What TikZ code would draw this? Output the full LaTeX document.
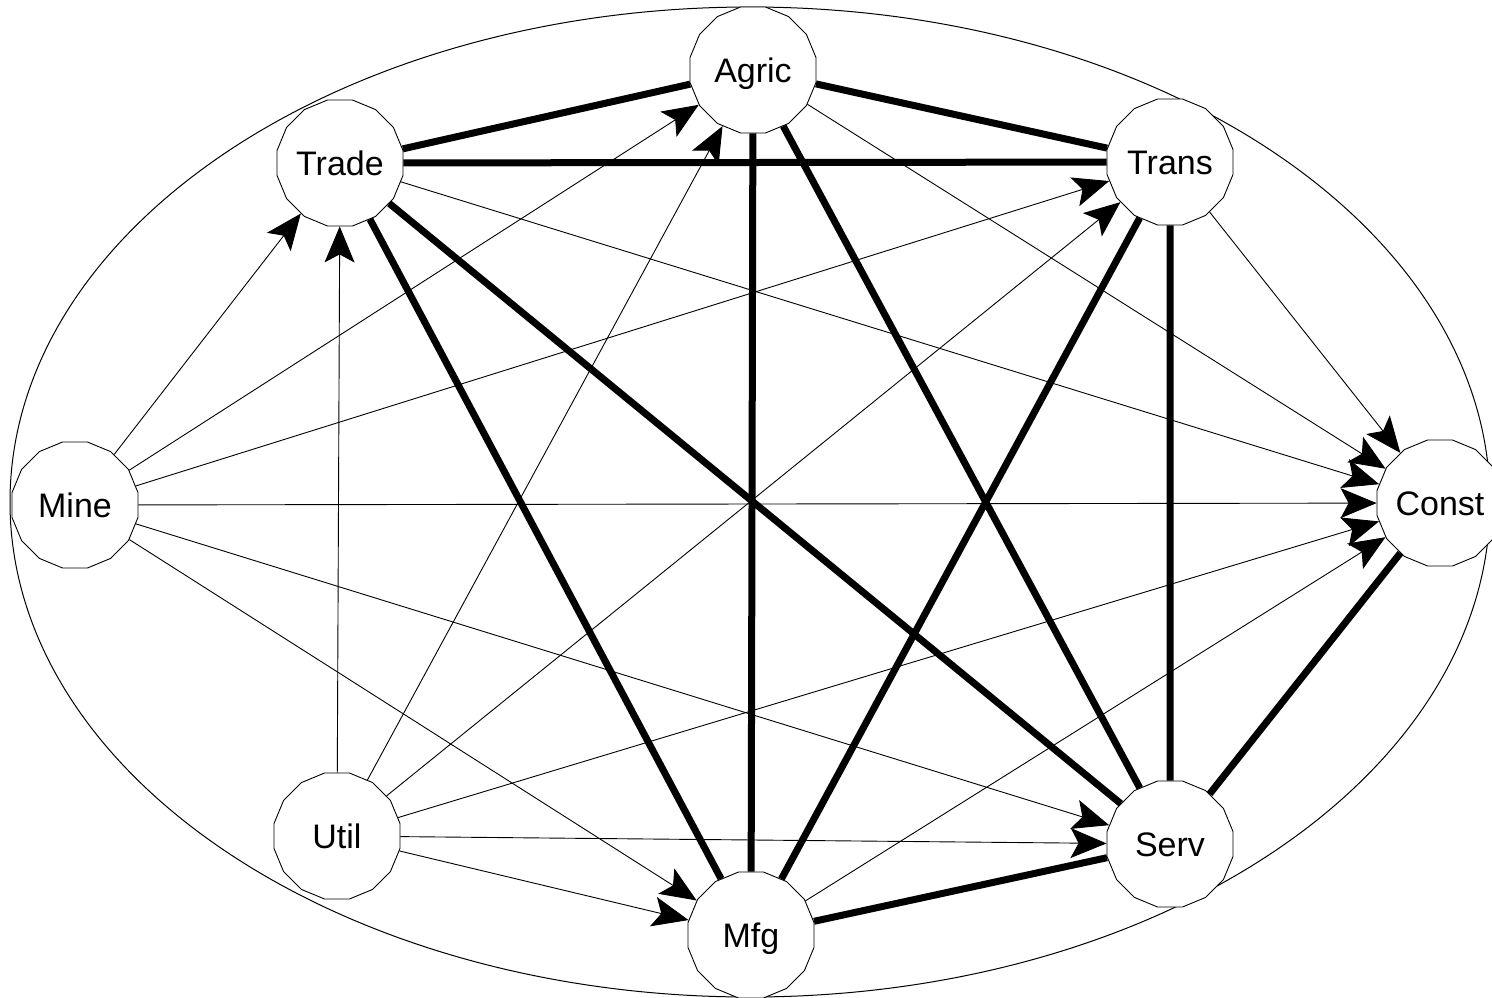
\documentclass[tikz,border=0pt]{standalone}
\usepackage{fontspec}
\setmainfont{Liberation Sans}
\usetikzlibrary{shapes.geometric,arrows.meta}
\begin{document}
\begin{tikzpicture}[x=1pt,y=-1pt,
  sector/.style={regular polygon, regular polygon sides=16, minimum size=128.4pt,
    inner sep=0pt, draw, line width=0.9pt, fill=white,
    font=\fontsize{34}{40}\selectfont, text height=24.5pt, text depth=0pt},
  link/.style={line width=7pt},
  cause/.style={line width=0.9pt, -{Stealth[length=36pt,width=30pt,inset=8pt]}},
]
\useasboundingbox (0,0) rectangle (1492,997);

% outer boundary
\draw[line width=1pt] (750,502) ellipse [x radius=740, y radius=495];

% sectors
\node[sector] (agric) at (753,70)   {Agric};
\node[sector] (trade) at (340,163)  {Trade};
\node[sector] (trans) at (1170,162) {Trans};
\node[sector] (mine)  at (75,505)   {Mine};
\node[sector] (const) at (1440,503) {Const};
\node[sector] (util)  at (337,836)  {Util};
\node[sector] (mfg)   at (751,935)  {Mfg};
\node[sector] (serv)  at (1170,844) {Serv};

% undirected links
\draw[link] (trade) -- (agric);
\draw[link] (agric) -- (trans);
\draw[link] (trade) -- (trans);
\draw[link] (trade) -- (mfg);
\draw[link] (trade) -- (serv);
\draw[link] (agric) -- (mfg);
\draw[link] (agric) -- (serv);
\draw[link] (trans) -- (mfg);
\draw[link] (trans) -- (serv);
\draw[link] (mfg) -- (serv);
\draw[link] (serv) -- (const);

% directed influences
\foreach \t in {trade,agric,trans,const,serv,mfg}{
  \draw[cause] (mine) -- (\t);
  \draw[cause] (util) -- (\t);
}
\foreach \s in {trade,agric,trans,mfg}{
  \draw[cause] (\s) -- (const);
}
\end{tikzpicture}
\end{document}
